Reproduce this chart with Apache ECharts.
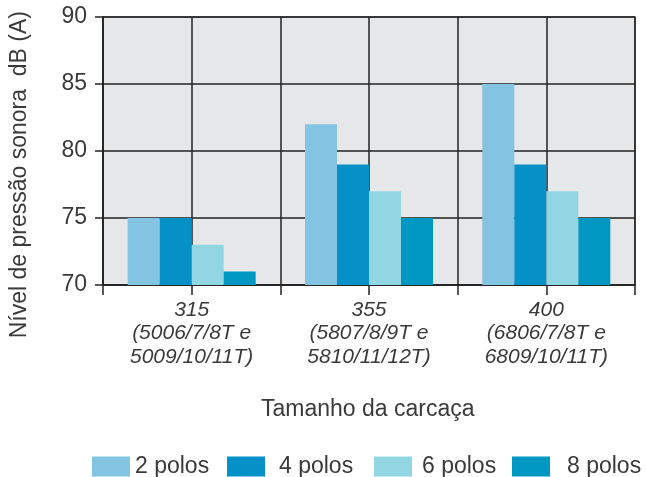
<!DOCTYPE html>
<html><head><meta charset="utf-8">
<script src="https://cdn.jsdelivr.net/npm/echarts@6/dist/echarts.min.js"></script>
<style>html,body{margin:0;padding:0;background:#fff}#c{width:646px;height:477px}</style>
</head><body><div id="c"></div>
<script>
const categories = ['315\n(5006/7/8T e\n5009/10/11T)', '355\n(5807/8/9T e\n5810/11/12T)', '400\n(6806/7/8T e\n6809/10/11T)'];
const seriesNames = ['2 polos', '4 polos', '6 polos', '8 polos'];
const polos2 = [75, 82, 85];
const polos4 = [75, 79, 79];
const polos6 = [73, 77, 77];
const polos8 = [71, 75, 75];
const yTicks = [70, 75, 80, 85, 90];
const colors = ['#82c4e1', '#0590c8', '#93d6e3', '#0098c2'];
const FONT = 'Liberation Sans';
const TXT = '#3a3a3a';
const values = [polos2, polos4, polos6, polos8];
const legendLeft = [92, 227, 374, 512];
const legendPad = [0, 9, 5, 12];

const chart = echarts.init(document.getElementById('c'), null, {renderer: 'canvas'});
chart.setOption({
  animation: false,
  textStyle: {fontFamily: FONT},
  grid: {left: 103, right: 11, top: 17, bottom: 192, show: true, backgroundColor: '#e6e7e9', borderColor: '#555', borderWidth: 1.5, containLabel: false},
  legend: seriesNames.map((n, i) => ({
    data: [n], left: legendLeft[i], top: 455, padding: 0, itemWidth: 38, itemHeight: 20,
    icon: 'rect', selectedMode: false,
    formatter: name => '{a|' + name + '}',
    textStyle: {fontSize: 23, color: TXT, fontFamily: FONT,
      rich: {a: {fontSize: 23, color: TXT, fontFamily: FONT, padding: [0, 0, 0, legendPad[i]]}}}
  })),
  xAxis: [
    {type: 'category', data: categories, boundaryGap: true,
     axisLine: {show: true, lineStyle: {color: '#222', width: 1.5}},
     axisTick: {show: false}, splitLine: {show: false},
     axisLabel: {fontSize: 21, fontStyle: 'italic', color: TXT, lineHeight: 23.5, margin: 13, fontFamily: FONT}},
    {type: 'value', min: 0, max: 6, interval: 1, position: 'bottom',
     axisLine: {show: false}, axisLabel: {show: false},
     axisTick: {show: true, length: 10, inside: false, lineStyle: {color: '#222', width: 1.5}},
     splitLine: {show: true, lineStyle: {color: '#222', width: 1.5}}}
  ],
  yAxis: {
    type: 'value', min: yTicks[0], max: yTicks[yTicks.length - 1], interval: 5,
    axisLine: {show: true, lineStyle: {color: '#222', width: 1.5}},
    axisTick: {show: true, length: 8, lineStyle: {color: '#222', width: 1.5}},
    splitLine: {show: true, lineStyle: {color: '#222', width: 1.5}},
    axisLabel: {fontSize: 23, color: TXT, margin: 16, fontFamily: FONT}
  },
  graphic: [
    {type: 'text', left: 8, top: 11, rotation: Math.PI / 2, silent: true,
     style: {text: 'Nível de pressão sonora  dB (A)', fontSize: 23, fill: TXT, fontFamily: FONT}},
    {type: 'text', silent: true, left: 261, top: 398,
     style: {text: 'Tamanho da carcaça', fontSize: 23, fill: TXT, fontFamily: FONT}}
  ],
  series: seriesNames.map((n, i) => ({
    name: n, type: 'bar', xAxisIndex: 0, data: values[i], barWidth: 32, barGap: '0%',
    itemStyle: {color: colors[i]}, z: 3
  }))
});
</script></body></html>
